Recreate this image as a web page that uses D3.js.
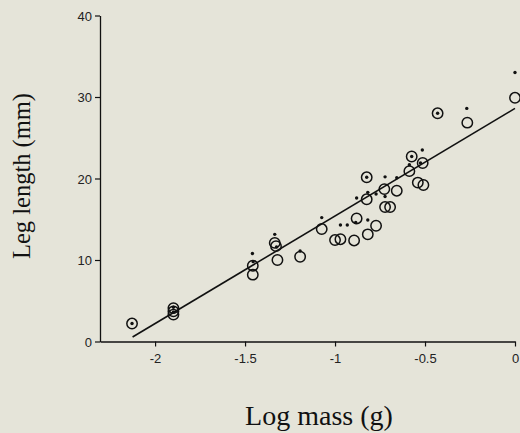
<!doctype html>
<html>
<head>
    <script src="https://d3js.org/d3.v7.min.js"></script>
</head>
<style>
    body { margin: 0; background: #e5e4d9; }
    svg text.tick-label { font: 13px "Liberation Sans", Arial, sans-serif; fill: #222; }
    svg text.title { font-family: "Liberation Serif", "Times New Roman", serif; fill: #111; }
</style>
<body>
<script>
    // open circles (log mass, leg length)
    var circleX = [-2.128, -1.898, -1.898, -1.898, -1.457, -1.457, -1.335, -1.328, -1.32, -1.194,
                   -1.074, -1.0, -0.97, -0.894, -0.88, -0.818, -0.772, -0.722, -0.694, -0.824,
                   -0.726, -0.657, -0.824, -0.587, -0.574, -0.513, -0.54, -0.509, -0.43, -0.265, 0.0];
    var circleY = [2.2, 3.3, 3.7, 4.1, 9.3, 8.2, 12.1, 11.7, 10.0, 10.4,
                   13.8, 12.45, 12.55, 12.4, 15.1, 13.15, 14.2, 16.5, 16.5, 17.45,
                   18.7, 18.5, 20.15, 20.9, 22.7, 21.9, 19.5, 19.2, 28.0, 26.85, 29.9];

    // small filled dots
    var dotX = [-2.128, -1.898, -1.898, -1.459, -1.455, -1.335, -1.325, -1.194, -1.074, -0.97,
                -0.932, -0.885, -0.818, -0.88, -0.818, -0.772, -0.722, -0.824, -0.722, -0.657,
                -0.587, -0.574, -0.515, -0.525, -0.43, -0.268, 0.0];
    var dotY = [2.2, 4.2, 3.6, 10.8, 9.8, 13.15, 11.6, 11.1, 15.2, 14.3,
                14.3, 14.6, 14.9, 17.6, 18.3, 18.1, 17.8, 20.15, 20.2, 20.1,
                21.7, 22.7, 23.5, 21.9, 28.0, 28.6, 33.0];

    // fitted line end points
    var fitX = [-2.125, 0];
    var fitY = [0.55, 28.6];

    var xTicks = [-2, -1.5, -1, -0.5, 0];
    var yTicks = [0, 10, 20, 30, 40];

    var width = 520,
        height = 433;

    var x = d3.scaleLinear()
        .domain([-2.306, 0])
        .range([100, 515]);

    var y = d3.scaleLinear()
        .domain([0, 40])
        .range([341.5, 15.5]);

    var svg = d3.select("body")
        .append("svg")
        .attr("width", width)
        .attr("height", height);

    var xAxis = svg.append("g")
        .attr("transform", "translate(0," + y(0) + ")")
        .call(d3.axisBottom(x).tickValues(xTicks).tickSize(5).tickSizeOuter(0)
            .tickFormat(function (d) { return d === 0 ? "0" : String(d); }));

    var yAxis = svg.append("g")
        .attr("transform", "translate(" + x.range()[0] + ",0)")
        .call(d3.axisLeft(y).tickValues(yTicks).tickSize(5).tickSizeOuter(0));

    [xAxis, yAxis].forEach(function (g) {
        g.attr("font-size", null).attr("font-family", null);
        g.select(".domain").attr("stroke", "#111").attr("stroke-width", 1.3);
        g.selectAll(".tick line").attr("stroke", "#111").attr("stroke-width", 1.2);
        g.selectAll(".tick text").attr("class", "tick-label");
    });
    xAxis.selectAll(".tick text").attr("dy", "1.05em");
    yAxis.selectAll(".tick text").attr("dy", "0.36em");

    // regression line
    var line = d3.line()
        .x(function (d) { return x(d[0]); })
        .y(function (d) { return y(d[1]); });

    svg.append("path")
        .datum(d3.zip(fitX, fitY))
        .attr("d", line)
        .attr("fill", "none")
        .attr("stroke", "#111")
        .attr("stroke-width", 1.6);

    svg.selectAll("circle.open")
        .data(d3.zip(circleX, circleY))
        .enter()
        .append("circle")
        .attr("class", "open")
        .attr("cx", function (d) { return x(d[0]); })
        .attr("cy", function (d) { return y(d[1]); })
        .attr("r", 5.2)
        .attr("fill", "none")
        .attr("stroke", "#111")
        .attr("stroke-width", 1.5);

    svg.selectAll("circle.dot")
        .data(d3.zip(dotX, dotY))
        .enter()
        .append("circle")
        .attr("class", "dot")
        .attr("cx", function (d) { return x(d[0]); })
        .attr("cy", function (d) { return y(d[1]); })
        .attr("r", 1.7)
        .attr("fill", "#111");

    svg.append("text")
        .attr("class", "title")
        .attr("x", 319)
        .attr("y", 425)
        .attr("text-anchor", "middle")
        .attr("font-size", 28)
        .text("Log mass (g)");

    svg.append("text")
        .attr("class", "title")
        .attr("transform", "translate(30,176) rotate(-90)")
        .attr("text-anchor", "middle")
        .attr("font-size", 24.5)
        .text("Leg length (mm)");
</script>
</body>
</html>
